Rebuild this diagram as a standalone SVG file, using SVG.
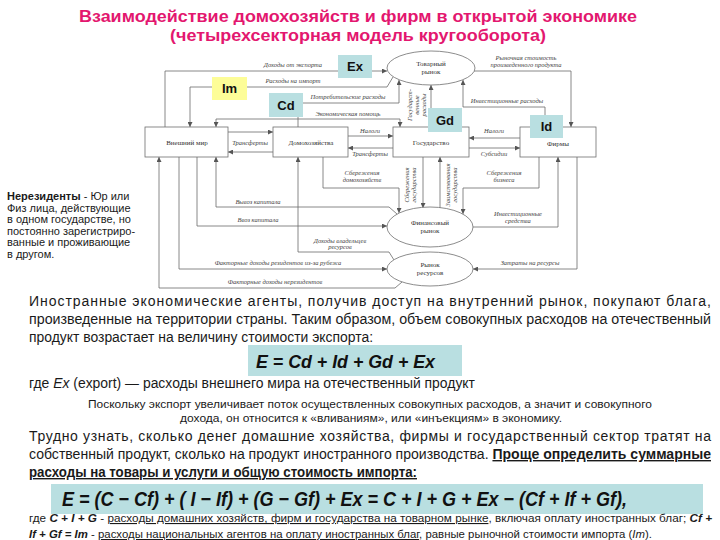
<svg xmlns="http://www.w3.org/2000/svg" width="720" height="540" viewBox="0 0 720 540">
<style>
.nb{fill:#fff;stroke:#6e6e6e;stroke-width:0.8}
.ln{fill:none;stroke:#6a6a6a;stroke-width:0.8}
.nl{font-family:"Liberation Serif",serif;font-size:7px;fill:#333;text-anchor:middle}
.el{font-family:"Liberation Serif",serif;font-style:italic;font-size:6.5px;fill:#444;text-anchor:middle}
.tag{font-family:"Liberation Sans",Arial,sans-serif;font-weight:bold;font-size:13px;fill:#111;text-anchor:middle}
.teal{fill:#b9dfe1}
.yel{fill:#fdfd98}
.title{font-family:"Liberation Sans",Arial,sans-serif;font-weight:bold;font-size:17px;fill:#e3176f}
.p{font-family:"Liberation Sans",Arial,sans-serif;font-size:14px;fill:#1a1a1a}
.s{font-family:"Liberation Sans",Arial,sans-serif;font-size:11px;fill:#1a1a1a}
.f{font-family:"Liberation Sans",Arial,sans-serif;font-weight:bold;font-style:italic;fill:#111}
.b{font-weight:bold}
.u{text-decoration:underline}
.bi{font-weight:bold;font-style:italic}
.i{font-style:italic}
</style>
<defs>
<marker id="ar" viewBox="0 0 8 8" refX="8" refY="4" markerWidth="5" markerHeight="5" markerUnits="userSpaceOnUse" orient="auto-start-reverse">
<path d="M0,0 L8,4 L0,8 Z" fill="#555"/>
</marker>
</defs>

<g id="title">
<text class="title" x="79" y="22" textLength="558" lengthAdjust="spacingAndGlyphs">Взаимодействие домохозяйств и фирм в открытой экономике</text>
<text class="title" x="170" y="41" textLength="376" lengthAdjust="spacingAndGlyphs">(четырехсекторная модель кругооборота)</text>
</g>

<g id="connectors">
<path class="ln" d="M165,127 V71 H387" marker-end="url(#ar)"/>
<path class="ln" d="M393,77 L387,87 H190 V127" marker-end="url(#ar)"/>
<path class="ln" d="M298,127 V103 H399 V80" marker-end="url(#ar)"/>
<path class="ln" d="M216,127 V119 H400 V127" marker-start="url(#ar)" marker-end="url(#ar)"/>
<path class="ln" d="M431,127 V85" marker-end="url(#ar)"/>
<path class="ln" d="M348,136 H393" marker-end="url(#ar)"/>
<path class="ln" d="M393,148 H348" marker-end="url(#ar)"/>
<path class="ln" d="M228,132 H273" marker-end="url(#ar)"/>
<path class="ln" d="M273,152 H228" marker-end="url(#ar)"/>
<path class="ln" d="M520,138 H469" marker-end="url(#ar)"/>
<path class="ln" d="M469,148 H520" marker-end="url(#ar)"/>
<path class="ln" d="M545,127 V107 H463 V80" marker-end="url(#ar)"/>
<path class="ln" d="M474,71 H571 V127" marker-end="url(#ar)"/>
<path class="ln" d="M423,157 V208" marker-end="url(#ar)"/>
<path class="ln" d="M440,208 V157" marker-end="url(#ar)"/>
<path class="ln" d="M323,157 V188 H399 V213" marker-end="url(#ar)"/>
<path class="ln" d="M539,157 V188 H463 V214" marker-end="url(#ar)"/>
<path class="ln" d="M473,227 H558 V157" marker-end="url(#ar)"/>
<path class="ln" d="M577,157 V269 H473" marker-end="url(#ar)"/>
<path class="ln" d="M394,260 L389,252 H298 V157" marker-end="url(#ar)"/>
<path class="ln" d="M397,214 L389,207 H216 V157" marker-end="url(#ar)"/>
<path class="ln" d="M197,157 V226 H387" marker-end="url(#ar)"/>
<path class="ln" d="M179,157 V269 H387" marker-end="url(#ar)"/>
<path class="ln" d="M402,282 L395,288 H159 V157" marker-end="url(#ar)"/>

<text class="el" x="293" y="67">Доходы от экспорта</text>
<text class="el" x="293" y="83">Расходы на импорт</text>
<text class="el" x="348" y="99">Потребительские расходы</text>
<text class="el" x="348" y="116">Экономическая помощь</text>
<text class="el" x="370" y="133">Налоги</text>
<text class="el" x="370" y="156">Трансферты</text>
<text class="el" x="250" y="145">Трансферты</text>
<text class="el" x="494" y="133">Налоги</text>
<text class="el" x="494" y="156">Субсидии</text>
<text class="el" x="507" y="103">Инвестиционные расходы</text>
<text class="el" x="526" y="60">Рыночная стоимость</text>
<text class="el" x="526" y="67">произведенного продукта</text>
<text class="el" x="362" y="175">Сбережения</text>
<text class="el" x="362" y="182">домохозяйств</text>
<text class="el" x="504" y="175">Сбережения</text>
<text class="el" x="504" y="182">бизнеса</text>
<text class="el" x="518" y="216">Инвестиционные</text>
<text class="el" x="518" y="223">средства</text>
<text class="el" x="530" y="265">Затраты на ресурсы</text>
<text class="el" x="340" y="243">Доходы владельцев</text>
<text class="el" x="340" y="249">ресурсов</text>
<text class="el" x="258" y="204">Вывоз капитала</text>
<text class="el" x="258" y="222">Ввоз капитала</text>
<text class="el" x="278" y="265">Факторные доходы резидентов из-за рубежа</text>
<text class="el" x="275" y="284">Факторные доходы нерезидентов</text>
<text class="el" transform="translate(412,105) rotate(-90)" font-size="6">Государст-</text>
<text class="el" transform="translate(419,105) rotate(-90)" font-size="6">венные</text>
<text class="el" transform="translate(426,105) rotate(-90)" font-size="6">расходы</text>
<text class="el" transform="translate(409,185) rotate(-90)" font-size="6">Сбережения</text>
<text class="el" transform="translate(416,185) rotate(-90)" font-size="6">государства</text>
<text class="el" transform="translate(450,185) rotate(-90)" font-size="6">Заимствования</text>
<text class="el" transform="translate(457,185) rotate(-90)" font-size="6">государства</text>
</g>

<g id="n-world"><rect class="nb" x="145" y="127" width="83" height="30"/><text class="nl" x="187" y="145">Внешний мир</text></g>
<g id="n-households"><rect class="nb" x="273" y="127" width="75" height="30"/><text class="nl" x="311" y="145">Домохозяйства</text></g>
<g id="n-government"><rect class="nb" x="393" y="127" width="76" height="30"/><text class="nl" x="431" y="145">Государство</text></g>
<g id="n-firms"><rect class="nb" x="520" y="127" width="76" height="30"/><text class="nl" x="558" y="146">Фирмы</text></g>
<g id="n-goods"><ellipse class="nb" cx="431" cy="68" rx="44" ry="17"/><text class="nl" x="431" y="66">Товарный</text><text class="nl" x="431" y="74">рынок</text></g>
<g id="n-finance"><ellipse class="nb" cx="430" cy="227" rx="43" ry="20"/><text class="nl" x="430" y="225">Финансовый</text><text class="nl" x="430" y="233">рынок</text></g>
<g id="n-resources"><ellipse class="nb" cx="430" cy="269" rx="43" ry="17"/><text class="nl" x="430" y="267">Рынок</text><text class="nl" x="430" y="275">ресурсов</text></g>

<g id="tag-ex"><rect class="teal" x="338" y="55" width="34" height="23"/><text class="tag" x="355" y="71">Ex</text></g>
<g id="tag-im"><rect class="yel" x="212" y="77" width="35" height="23"/><text class="tag" x="229.5" y="93">Im</text></g>
<g id="tag-cd"><rect class="teal" x="269" y="93" width="34" height="24"/><text class="tag" x="286" y="110">Cd</text></g>
<g id="tag-gd"><rect class="teal" x="428" y="108" width="34" height="24"/><text class="tag" x="445" y="125">Gd</text></g>
<g id="tag-id"><rect class="teal" x="530" y="115" width="33" height="23"/><text class="tag" x="546.5" y="131">Id</text></g>

<g id="note">
<text class="s" font-size="9.5" x="7" y="200"><tspan class="b">Нерезиденты</tspan> - Юр или</text>
<text class="s" font-size="9.5" x="7" y="211.5">Физ лица, действующие</text>
<text class="s" font-size="9.5" x="7" y="223">в одном государстве, но</text>
<text class="s" font-size="9.5" x="7" y="234.5">постоянно зарегистриро-</text>
<text class="s" font-size="9.5" x="7" y="246">ванные и проживающие</text>
<text class="s" font-size="9.5" x="7" y="257.5">в другом.</text>
</g>

<g id="text1">
<text class="p" x="29" y="306" textLength="682" lengthAdjust="spacing">Иностранные экономические агенты, получив доступ на внутренний рынок, покупают блага,</text>
<text class="p" x="29" y="324" textLength="682" lengthAdjust="spacingAndGlyphs">произведенные на территории страны. Таким образом, объем совокупных расходов на отечественный</text>
<text class="p" x="29" y="342" textLength="344" lengthAdjust="spacingAndGlyphs">продукт возрастает на величину стоимости экспорта:</text>
<rect class="teal" x="248" y="345" width="214" height="31"/>
<text class="f" font-size="19" x="256" y="368" textLength="179" lengthAdjust="spacingAndGlyphs">E = Cd + Id + Gd + Ex</text>
<text class="p" x="29" y="388" textLength="446" lengthAdjust="spacingAndGlyphs">где <tspan class="i">Ex</tspan> (export) — расходы внешнего мира на отечественный продукт</text>
<text class="s" x="88" y="408" textLength="564" lengthAdjust="spacingAndGlyphs">Поскольку экспорт увеличивает поток осуществленных совокупных расходов, а значит и совокупного</text>
<text class="s" x="180" y="422" textLength="382" lengthAdjust="spacingAndGlyphs">дохода, он относится к «вливаниям», или «инъекциям» в экономику.</text>
</g>

<g id="text2">
<text class="p" x="29" y="441" textLength="682" lengthAdjust="spacing">Трудно узнать, сколько денег домашние хозяйства, фирмы и государственный сектор тратят на</text>
<text class="p" x="29" y="459" textLength="682" lengthAdjust="spacingAndGlyphs">собственный продукт, сколько на продукт иностранного производства. <tspan class="b u">Проще определить суммарные</tspan></text>
<text class="p b u" x="29" y="477" textLength="388" lengthAdjust="spacingAndGlyphs">расходы на товары и услуги и общую стоимость импорта:</text>
<rect class="teal" x="51" y="484" width="652" height="30"/>
<text class="f" font-size="20" x="62" y="506" textLength="565" lengthAdjust="spacingAndGlyphs">E = (C − Cf) + ( I − If) + (G − Gf) + Ex = C + I + G + Ex − (Cf + If + Gf),</text>
<text class="s" x="29" y="522" textLength="683" lengthAdjust="spacingAndGlyphs">где <tspan class="bi">C + I + G</tspan> - <tspan class="u">расходы домашних хозяйств, фирм и государства на товарном рынке</tspan>, включая оплату иностранных благ; <tspan class="bi">Cf +</tspan></text>
<text class="s" x="29" y="538" textLength="623" lengthAdjust="spacingAndGlyphs"><tspan class="bi">If + Gf = Im</tspan> - <tspan class="u">расходы национальных агентов на оплату иностранных благ</tspan>, равные рыночной стоимости импорта (<tspan class="i">Im</tspan>).</text>
</g>
</svg>
